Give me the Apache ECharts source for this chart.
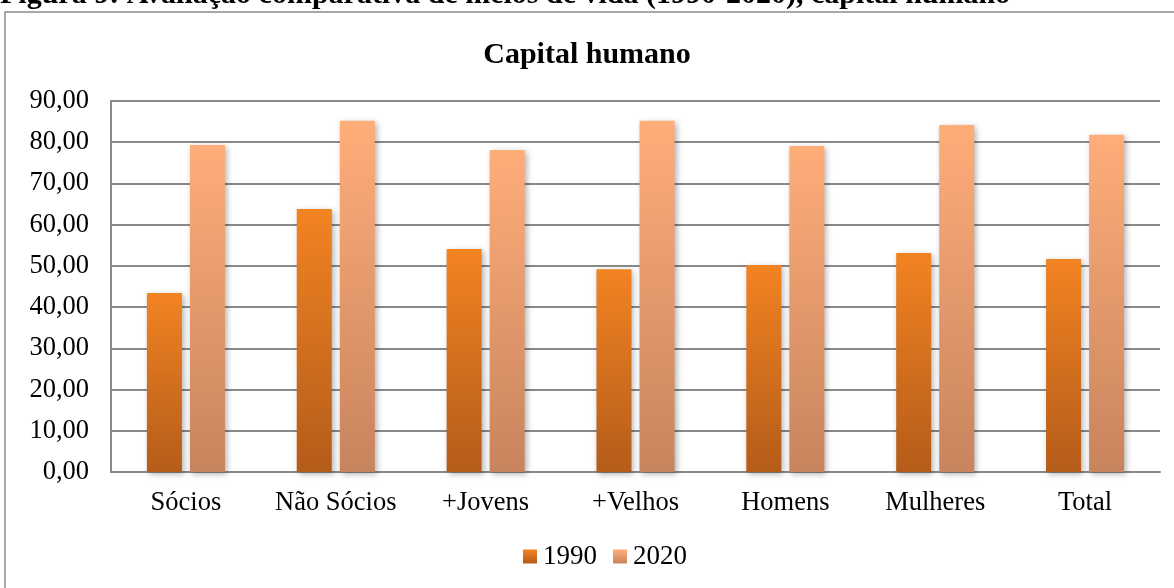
<!DOCTYPE html>
<html>
<head>
<meta charset="utf-8">
<script src="https://cdn.jsdelivr.net/npm/echarts@6/dist/echarts.min.js"></script>
<style>html,body{margin:0;padding:0;background:#fff}#c{width:1174px;height:588px}</style>
</head>
<body>
<div id="c"></div>
<script>
var categories = ['Sócios', 'Não Sócios', '+Jovens', '+Velhos', 'Homens', 'Mulheres', 'Total'];
var values1990 = [43.4, 63.8, 54.1, 49.2, 50.2, 53.1, 51.7];
var values2020 = [79.3, 85.2, 78.1, 85.2, 79.1, 84.2, 81.8];
var seriesNames = ['1990', '2020'];

var FONT = '"Liberation Serif", "Times New Roman", serif';
var chart = echarts.init(document.getElementById('c'), null, {renderer: 'canvas'});
function grad(top, bottom) {
  return new echarts.graphic.LinearGradient(0, 0, 0, 1, [
    {offset: 0, color: top}, {offset: 1, color: bottom}
  ]);
}
chart.setOption({
  backgroundColor: '#ffffff',
  animation: false,
  graphic: [
    {type: 'rect', shape: {x: 5, y: 12, width: 1180, height: 600}, style: {fill: 'none', stroke: '#8c8c8c', lineWidth: 1.5}, z: -1},
    {type: 'text', left: 0, top: -20, style: {text: 'Figura 9: Avaliação comparativa de meios de vida (1990-2020), capital humano', font: 'bold 30px ' + FONT, fill: '#000'}}
  ],
  title: {
    text: 'Capital humano',
    left: 'center',
    top: 35,
    textStyle: {fontFamily: FONT, fontWeight: 'bold', fontSize: 30, color: '#000'}
  },
  legend: {
    data: seriesNames,
    bottom: 13,
    left: 518,
    itemWidth: 14,
    itemHeight: 14,
    itemGap: 16,
    icon: 'rect',
    textStyle: {fontFamily: FONT, fontSize: 27, color: '#000', padding: [0, 0, 0, 1]}
  },
  grid: {left: 111, right: 14, top: 101, bottom: 116},
  xAxis: {
    type: 'category',
    data: categories,
    axisLine: {lineStyle: {color: '#898989', width: 2}},
    axisTick: {show: false},
    axisLabel: {interval: 0, hideOverlap: false, fontFamily: FONT, fontSize: 26.5, color: '#000', margin: 18}
  },
  yAxis: {
    type: 'value',
    min: 0,
    max: 90,
    interval: 10,
    axisLine: {show: true, lineStyle: {color: '#898989', width: 2}},
    axisTick: {show: false},
    splitLine: {lineStyle: {color: '#898989', width: 2}},
    axisLabel: {
      fontFamily: FONT, fontSize: 26.5, color: '#000', margin: 22,
      formatter: function (v) { return v.toFixed(2).replace('.', ','); }
    }
  },
  series: [
    {
      name: seriesNames[0], type: 'bar', data: values1990, barWidth: 35, barGap: '23%',
      itemStyle: {color: grad('#F28322', '#B45C1A'), shadowColor: 'rgba(0,0,0,0.3)', shadowBlur: 6, shadowOffsetX: 2, shadowOffsetY: 2}
    },
    {
      name: seriesNames[1], type: 'bar', data: values2020, barWidth: 35,
      itemStyle: {color: grad('#FFAD79', '#C8845E'), shadowColor: 'rgba(0,0,0,0.3)', shadowBlur: 6, shadowOffsetX: 2, shadowOffsetY: 2}
    }
  ]
});
</script>
</body>
</html>
